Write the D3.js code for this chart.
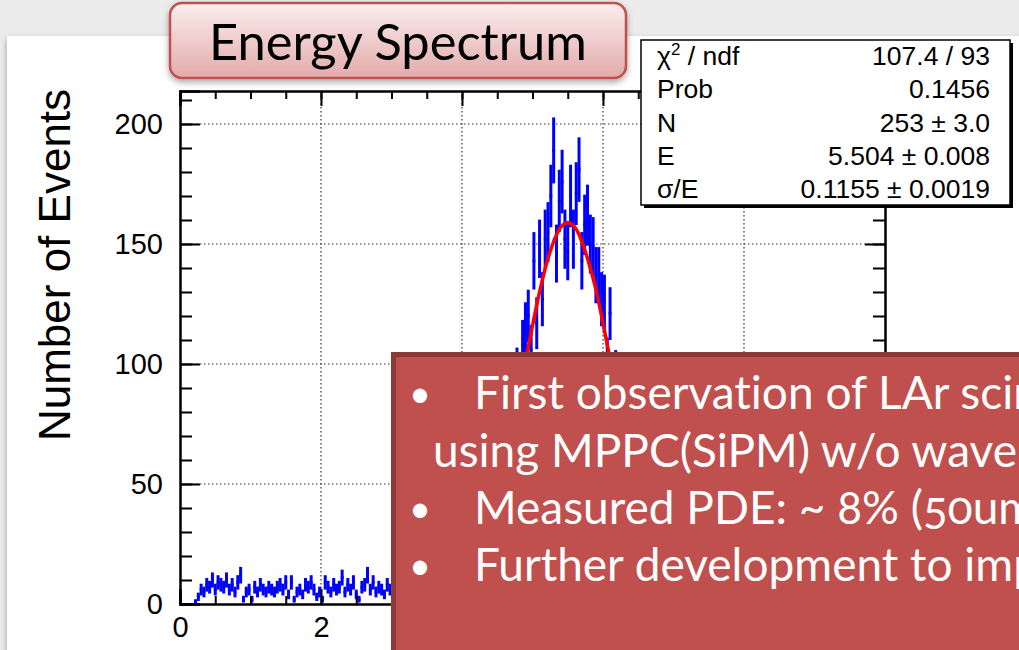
<!DOCTYPE html>
<html>
<head>
<meta charset="utf-8">
<script src="https://cdn.jsdelivr.net/npm/d3@7"></script>
<style>
  body { margin: 0; background: #ececec; overflow: hidden; }
  svg { display: block; }
  .root text { font-family: "Liberation Sans", Arial, sans-serif; fill: #000; }
  .slide text { font-family: Lato, "Open Sans", sans-serif; font-variant-ligatures: none; }
</style>
</head>
<body>
<div id="chart"></div>
<script>
// histogram bins, 0.04 wide
const binWidth = 0.04;
const lowStart = 0.2;
const lowCounts = [
  1, 3, 6, 5, 8, 7, 10, 6, 9, 8, 7, 10, 6, 8, 5, 9, 12, 2, 5, 6,
  2, 7, 5, 8, 6, 5, 7, 6, 5, 7, 8, 6, 9, 4, 9, 2, 5, 6, 4, 8,
  7, 9, 6, 3, 5, 2, 9, 7, 5, 8, 6, 7, 11, 5, 8, 6, 9, 4, 2, 7,
  8, 12, 6, 9, 5, 7, 6, 4, 8, 6, 7, 5, 8, 6, 7, 4, 9, 6, 5, 7,
  8, 6, 5, 7, 6, 8, 5, 7, 9, 6, 8, 7, 9, 8, 10
];
const peakStart = 4.0;
const peakCounts = [
  12, 9, 16, 13, 21, 17, 26, 24, 34, 30, 41, 38, 52, 47, 61, 56, 70, 64, 86, 97,
  84, 108, 115, 120, 106, 143, 117, 148, 127, 152, 155, 170, 189, 146, 168, 176, 152, 147, 170, 152,
  171, 181, 143, 158, 162, 150, 149, 137, 137, 127, 126, 101, 121, 89, 96, 80, 82, 68, 71, 57,
  60, 47, 50, 39, 41, 31, 33, 24, 26, 19, 20, 14, 15, 11, 10
];

// gaussian fit
const fitX = [4.4, 4.5, 4.6, 4.7, 4.8, 4.9, 5.0, 5.1, 5.2, 5.3, 5.4, 5.5, 5.6, 5.7, 5.8, 5.9, 6.0, 6.1, 6.2, 6.3, 6.4, 6.5, 6.6];
const fitY = [35, 46, 58, 71, 86, 101, 116, 130, 142, 151, 157, 159, 157, 151, 142, 131, 117, 102, 87, 73, 59, 47, 36];

const xMajor = [0, 2, 4, 6, 8, 10];
const yMajor = [0, 50, 100, 150, 200];
const statLabels = ["χ2 / ndf", "Prob", "N", "E", "σ/E"];
const statValues = ["107.4 / 93", "0.1456", "253 ± 3.0", "5.504 ± 0.008", "0.1155 ± 0.0019"];
// the slide box runs off the right edge of the picture
const bulletLines = [
  { bullet: true, text: "First observation of LAr scin" },
  { bullet: false, text: "using MPPC(SiPM) w/o wavele" },
  { bullet: true, text: "Measured PDE: ~ 8% (50um" },
  { bullet: true, text: "Further development to imp" }
];

const width = 1019;
const height = 650;
const frame = { left: 180, right: 885, top: 91, bottom: 604 };

const svg = d3.select("#chart").append("svg")
  .attr("width", width)
  .attr("height", height);

const defs = svg.append("defs");
const shadow = defs.append("filter").attr("id", "shadow")
  .attr("x", "-10%").attr("y", "-10%").attr("width", "130%").attr("height", "140%");
shadow.append("feDropShadow")
  .attr("dx", 0).attr("dy", 3).attr("stdDeviation", 3)
  .attr("flood-color", "#000").attr("flood-opacity", 0.35);

const titleGrad = defs.append("linearGradient").attr("id", "titleGrad")
  .attr("x1", 0).attr("y1", 0).attr("x2", 0).attr("y2", 1);
titleGrad.append("stop").attr("offset", "0%").attr("stop-color", "#fbeeee");
titleGrad.append("stop").attr("offset", "100%").attr("stop-color", "#e3aaaa");

defs.append("clipPath").attr("id", "frameClip")
  .append("rect")
  .attr("x", frame.left).attr("y", frame.top)
  .attr("width", frame.right - frame.left).attr("height", frame.bottom - frame.top);

// slide page
svg.append("rect")
  .attr("x", 7).attr("y", 36)
  .attr("width", width).attr("height", height)
  .attr("fill", "#fff")
  .attr("filter", "url(#shadow)");

const x = d3.scaleLinear().domain([0, 10]).range([frame.left, frame.right]);
const y = d3.scaleLinear().domain([0, 213.75]).range([frame.bottom, frame.top]);

const root = svg.append("g").attr("class", "root");

// grid
root.append("g").selectAll("line")
  .data(xMajor.filter((d) => d > 0 && d < 10))
  .join("line")
  .attr("x1", (d) => x(d)).attr("x2", (d) => x(d))
  .attr("y1", frame.top).attr("y2", frame.bottom)
  .attr("stroke", "#333").attr("stroke-width", 1.2).attr("stroke-dasharray", "1.5,2.5");
root.append("g").selectAll("line")
  .data(yMajor.filter((d) => d > 0))
  .join("line")
  .attr("x1", frame.left).attr("x2", frame.right)
  .attr("y1", (d) => y(d)).attr("y2", (d) => y(d))
  .attr("stroke", "#333").attr("stroke-width", 1.2).attr("stroke-dasharray", "1.5,2.5");

// histogram with error bars
const bins = [];
lowCounts.forEach((c, i) => bins.push({ lo: lowStart + i * binWidth, c: c }));
peakCounts.forEach((c, i) => bins.push({ lo: peakStart + i * binWidth, c: c }));

const hist = root.append("g").attr("clip-path", "url(#frameClip)")
  .attr("stroke", "#0000ff").attr("stroke-width", 3);
hist.selectAll("line.h")
  .data(bins.filter((d) => d.c > 0))
  .join("line").attr("class", "h")
  .attr("x1", (d) => x(d.lo)).attr("x2", (d) => x(d.lo + binWidth))
  .attr("y1", (d) => y(d.c)).attr("y2", (d) => y(d.c));
hist.selectAll("line.v")
  .data(bins.filter((d) => d.c > 0))
  .join("line").attr("class", "v")
  .attr("x1", (d) => x(d.lo + binWidth / 2)).attr("x2", (d) => x(d.lo + binWidth / 2))
  .attr("y1", (d) => y(Math.max(0, d.c - Math.sqrt(d.c))))
  .attr("y2", (d) => y(d.c + Math.sqrt(d.c)));

// fit curve
const fitLine = d3.line()
  .x((d, i) => x(fitX[i]))
  .y((d) => y(d))
  .curve(d3.curveCatmullRom);
root.append("path")
  .attr("d", fitLine(fitY))
  .attr("fill", "none")
  .attr("stroke", "#ff0000")
  .attr("stroke-width", 3.5);

// axes, ticks inside the frame
function styleAxis(g) {
  g.select(".domain").attr("stroke", "#000").attr("stroke-width", 2.5);
  g.selectAll(".tick line").attr("stroke", "#000").attr("stroke-width", 2);
  g.selectAll("text").style("font-size", "29px").attr("fill", "#000");
}
root.append("g")
  .attr("transform", `translate(0,${frame.bottom})`)
  .call(d3.axisBottom(x).tickValues(xMajor).tickSize(-15).tickPadding(12).tickFormat(d3.format("d")))
  .call(styleAxis);
root.append("g")
  .attr("transform", `translate(0,${frame.bottom})`)
  .call(d3.axisBottom(x).tickValues(x.ticks(20)).tickSize(-8).tickFormat(""))
  .call((g) => g.select(".domain").remove())
  .call(styleAxis);
root.append("g")
  .attr("transform", `translate(0,${frame.top})`)
  .call(d3.axisTop(x).tickValues(xMajor).tickSize(-15).tickFormat(""))
  .call(styleAxis);
root.append("g")
  .attr("transform", `translate(0,${frame.top})`)
  .call(d3.axisTop(x).tickValues(x.ticks(20)).tickSize(-8).tickFormat(""))
  .call((g) => g.select(".domain").remove())
  .call(styleAxis);
root.append("g")
  .attr("transform", `translate(${frame.left},0)`)
  .call(d3.axisLeft(y).tickValues(yMajor).tickSize(-20).tickPadding(17))
  .call(styleAxis);
root.append("g")
  .attr("transform", `translate(${frame.left},0)`)
  .call(d3.axisLeft(y).tickValues(y.ticks(20)).tickSize(-12).tickFormat(""))
  .call((g) => g.select(".domain").remove())
  .call(styleAxis);
root.append("g")
  .attr("transform", `translate(${frame.right},0)`)
  .call(d3.axisRight(y).tickValues(yMajor).tickSize(-20).tickFormat(""))
  .call(styleAxis);
root.append("g")
  .attr("transform", `translate(${frame.right},0)`)
  .call(d3.axisRight(y).tickValues(y.ticks(20)).tickSize(-12).tickFormat(""))
  .call((g) => g.select(".domain").remove())
  .call(styleAxis);

root.append("text")
  .attr("transform", "translate(70,265) rotate(-90)")
  .attr("text-anchor", "middle")
  .style("font-size", "44px")
  .text("Number of Events");

// stats box
const stats = root.append("g").attr("transform", "translate(641,40)");
stats.append("rect").attr("x", 3).attr("y", 3).attr("width", 369).attr("height", 165).attr("fill", "#000");
stats.append("rect").attr("width", 369).attr("height", 165)
  .attr("fill", "#fff").attr("stroke", "#000").attr("stroke-width", 1.5);
statLabels.forEach((label, i) => {
  const t = stats.append("text")
    .attr("x", 16).attr("y", 25 + i * 33.25)
    .style("font-size", "26.5px");
  if (label.startsWith("χ2")) {
    t.append("tspan").text("χ");
    t.append("tspan").attr("dy", -10).style("font-size", "17px").text("2");
    t.append("tspan").attr("dy", 10).text(" / ndf");
  } else {
    t.text(label);
  }
  stats.append("text")
    .attr("x", 349).attr("y", 25 + i * 33.25)
    .attr("text-anchor", "end")
    .style("font-size", "26.5px")
    .text(statValues[i]);
});

// slide overlays
const slide = svg.append("g").attr("class", "slide");

const title = slide.append("g");
title.append("rect")
  .attr("x", 170).attr("y", 3).attr("width", 456).attr("height", 75).attr("rx", 12)
  .attr("fill", "url(#titleGrad)")
  .attr("stroke", "#c0504d").attr("stroke-width", 2.5)
  .attr("filter", "url(#shadow)");
const titleText = title.append("text")
  .attr("x", 398).attr("y", 60)
  .attr("text-anchor", "middle")
  .attr("fill", "#000")
  .style("font-size", "48px")
  .text("Energy Spectrum");
const tw = titleText.node().getComputedTextLength();
titleText.style("font-size", `${48 * 378 / tw}px`);

const box = slide.append("g");
box.append("rect")
  .attr("x", 391).attr("y", 352).attr("width", 640).attr("height", 310)
  .attr("fill", "#8c3a38");
box.append("rect")
  .attr("x", 396).attr("y", 357).attr("width", 640).attr("height", 310)
  .attr("fill", "#c0504d");

const lineY = [409, 467, 524, 581];
bulletLines.forEach((l, i) => {
  if (l.bullet) {
    box.append("text")
      .attr("x", 420).attr("y", lineY[i] - 2)
      .attr("text-anchor", "middle")
      .attr("fill", "#fff")
      .style("font-size", "38px")
      .text("•");
  }
  box.append("text")
    .attr("x", l.bullet ? 474 : 433).attr("y", lineY[i])
    .attr("fill", "#fff")
    .style("font-size", "46px")
    .style("font-variant-numeric", "oldstyle-nums")
    .text(l.text);
});
</script>
</body>
</html>
